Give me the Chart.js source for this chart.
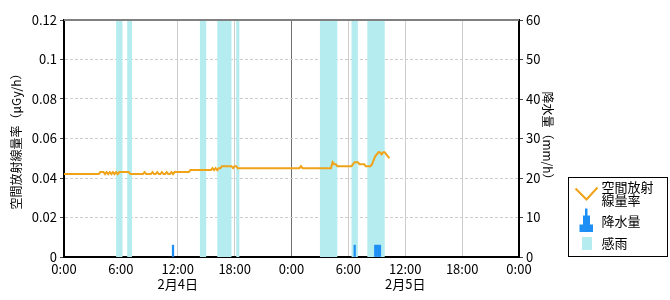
<!DOCTYPE html>
<html>
<head>
<meta charset="utf-8">
<script src="https://cdn.jsdelivr.net/npm/chart.js@4.4.1/dist/chart.umd.min.js"></script>
<style>
html, body { margin: 0; padding: 0; background: #fff; }
canvas { display: block; }
</style>
</head>
<body>
<canvas id="chart" width="670" height="300"></canvas>
<script>
// ============ DATA ============
const doseLabel = '空間放射線量率';
const rainLabel = '降水量';
const senseLabel = '感雨';

// 10-minute readings starting 2/4 0:00 (μGy/h)
const doseRate = [
    0.042, 0.042, 0.042, 0.042, 0.042, 0.042,  // 0h
    0.042, 0.042, 0.042, 0.042, 0.042, 0.042,
    0.042, 0.042, 0.042, 0.042, 0.042, 0.042,
    0.042, 0.042, 0.042, 0.042, 0.042, 0.043,
    0.043, 0.043, 0.042, 0.043, 0.042, 0.043,
    0.042, 0.043, 0.042, 0.043, 0.042, 0.043,
    0.043, 0.043, 0.043, 0.043, 0.043, 0.043,  // 6h
    0.042, 0.042, 0.042, 0.042, 0.042, 0.042,
    0.042, 0.042, 0.042, 0.043, 0.042, 0.042,
    0.042, 0.042, 0.043, 0.042, 0.042, 0.043,
    0.042, 0.042, 0.043, 0.042, 0.042, 0.043,
    0.042, 0.042, 0.043, 0.042, 0.043, 0.043,
    0.043, 0.043, 0.043, 0.043, 0.043, 0.043,  // 12h
    0.043, 0.043, 0.044, 0.044, 0.044, 0.044,
    0.044, 0.044, 0.044, 0.044, 0.044, 0.044,
    0.044, 0.044, 0.044, 0.044, 0.045, 0.044,
    0.045, 0.044, 0.045, 0.045, 0.046, 0.046,
    0.046, 0.046, 0.046, 0.046, 0.046, 0.045,
    0.046, 0.046, 0.045, 0.045, 0.045, 0.045,  // 18h
    0.045, 0.045, 0.045, 0.045, 0.045, 0.045,
    0.045, 0.045, 0.045, 0.045, 0.045, 0.045,
    0.045, 0.045, 0.045, 0.045, 0.045, 0.045,
    0.045, 0.045, 0.045, 0.045, 0.045, 0.045,
    0.045, 0.045, 0.045, 0.045, 0.045, 0.045,
    0.045, 0.045, 0.045, 0.045, 0.045, 0.045,  // 2/5 0h
    0.046, 0.045, 0.045, 0.045, 0.045, 0.045,
    0.045, 0.045, 0.045, 0.045, 0.045, 0.045,
    0.045, 0.045, 0.045, 0.045, 0.045, 0.045,
    0.045, 0.045, 0.048, 0.047, 0.047, 0.046,
    0.046, 0.046, 0.046, 0.046, 0.046, 0.046,
    0.046, 0.046, 0.046, 0.047, 0.048, 0.048,  // 2/5 6h
    0.048, 0.047, 0.047, 0.047, 0.047, 0.046,
    0.046, 0.046, 0.046, 0.047, 0.049, 0.051,
    0.052, 0.053, 0.053, 0.052, 0.053, 0.053,
    0.052, 0.051, 0.050
];

// rain (mm/h), "day h:mm"
const rainTimes = ['4 11:30', '5 6:40', '5 8:50', '5 9:00', '5 9:10', '5 9:20'];
const rainAmounts = [3, 3, 3, 3, 3, 3];

// rain sensor on/off periods
const senseStart = ['4 5:30', '4 6:40', '4 14:20', '4 16:10', '4 18:10', '5 3:00', '5 6:20', '5 8:00'];
const senseEnd   = ['4 6:10', '4 7:10', '4 15:00', '4 17:40', '4 18:30', '5 4:50', '5 7:00', '5 9:50'];

const timeTicks = ['0:00', '6:00', '12:00', '18:00', '0:00', '6:00', '12:00', '18:00', '0:00'];
const dateTicks = ['', '', '2月4日', '', '', '', '2月5日', '', ''];

// ============ HELPERS ============
const NUM_FONT = '"Liberation Sans Narrow", "Noto Sans CJK JP", sans-serif';
const JP_FONT = '"Noto Sans CJK JP", sans-serif';
const DOSE_COLOR = '#f0a318';
const RAIN_COLOR = '#1e8ff5';
const SENSE_COLOR = '#b4ecef';

function toHours(s) {
    const [d, hm] = s.split(' ');
    const [h, m] = hm.split(':');
    return (Number(d) - 4) * 24 + Number(h) + Number(m) / 60;
}

function senseSteps() {
    const pts = [{ x: 0, y: 0 }];
    senseStart.forEach((s, i) => {
        pts.push({ x: toHours(s), y: 1 });
        pts.push({ x: toHours(senseEnd[i]), y: 0 });
    });
    pts.push({ x: 48, y: 0 });
    return pts;
}

const dosePoints = doseRate.map((v, i) => ({ x: i / 6, y: v }));
const rainPoints = rainTimes.map((t, i) => ({ x: toHours(t), y: rainAmounts[i] }));

// ============ PLUGINS ============
const frameAndLegend = {
    id: 'frameAndLegend',
    afterDatasetsDraw(chart) {
        const { ctx, chartArea } = chart;
        ctx.save();
        ctx.strokeStyle = '#808080';
        ctx.lineWidth = 2;
        ctx.beginPath();
        ctx.moveTo(chartArea.left, chartArea.top);
        ctx.lineTo(chartArea.right, chartArea.top);
        ctx.stroke();
        ctx.restore();
    },
    afterDraw(chart) {
        const { ctx, chartArea } = chart;
        const bx = chartArea.right + 49.5;
        const by = chartArea.bottom - 79.5;
        ctx.save();
        ctx.strokeStyle = '#000';
        ctx.lineWidth = 1;
        ctx.strokeRect(bx, by, 99, 79);

        // dose icon
        ctx.strokeStyle = DOSE_COLOR;
        ctx.lineWidth = 2;
        ctx.beginPath();
        ctx.moveTo(bx + 7, by + 11);
        ctx.lineTo(bx + 18, by + 22);
        ctx.lineTo(bx + 29, by + 10);
        ctx.stroke();

        // rain icon
        ctx.fillStyle = RAIN_COLOR;
        ctx.beginPath();
        ctx.moveTo(bx + 11, by + 54.5);
        ctx.lineTo(bx + 11, by + 47);
        ctx.lineTo(bx + 14.5, by + 47);
        ctx.lineTo(bx + 14.5, by + 38);
        ctx.lineTo(bx + 16.5, by + 38);
        ctx.lineTo(bx + 16.5, by + 31);
        ctx.lineTo(bx + 19, by + 31);
        ctx.lineTo(bx + 19, by + 38);
        ctx.lineTo(bx + 21.5, by + 38);
        ctx.lineTo(bx + 21.5, by + 47);
        ctx.lineTo(bx + 24.5, by + 47);
        ctx.lineTo(bx + 24.5, by + 54.5);
        ctx.closePath();
        ctx.fill();

        // sense icon
        ctx.fillStyle = SENSE_COLOR;
        ctx.fillRect(bx + 13.5, by + 59.5, 10, 13);

        ctx.fillStyle = '#000';
        ctx.font = '13px ' + JP_FONT;
        ctx.textBaseline = 'middle';
        ctx.fillText(doseLabel.slice(0, 4), bx + 33, by + 10);
        ctx.fillText(doseLabel.slice(4), bx + 33, by + 23);
        ctx.fillText(rainLabel, bx + 33, by + 44);
        ctx.fillText(senseLabel, bx + 33, by + 66);
        ctx.restore();
    }
};

// ============ CHART ============
new Chart(document.getElementById('chart'), {
    type: 'line',
    data: {
        datasets: [
            {
                label: doseLabel,
                data: dosePoints,
                yAxisID: 'yDose',
                borderColor: DOSE_COLOR,
                borderWidth: 2,
                pointRadius: 0,
                tension: 0,
                fill: false
            },
            {
                type: 'bar',
                label: rainLabel,
                data: rainPoints,
                yAxisID: 'yRain',
                backgroundColor: RAIN_COLOR,
                borderWidth: 0,
                barPercentage: 1,
                categoryPercentage: 1
            },
            {
                label: senseLabel,
                data: senseSteps(),
                yAxisID: 'yBand',
                stepped: 'before',
                borderColor: 'rgba(0,0,0,0)',
                borderWidth: 0,
                backgroundColor: SENSE_COLOR,
                pointRadius: 0,
                fill: 'origin'
            }
        ]
    },
    options: {
        responsive: false,
        devicePixelRatio: 1,
        animation: false,
        layout: { padding: { top: 20, right: 106, bottom: 3, left: 0 } },
        plugins: {
            legend: { display: false },
            tooltip: { enabled: false }
        },
        scales: {
            x: {
                type: 'linear',
                min: 0,
                max: 48,
                offset: false,
                ticks: {
                    stepSize: 6,
                    autoSkip: false,
                    maxRotation: 0,
                    padding: 4,
                    color: '#000',
                    font: { family: NUM_FONT, size: 13 },
                    callback: (v, i) => dateTicks[i] ? [timeTicks[i], dateTicks[i]] : timeTicks[i]
                },
                grid: {
                    offset: false,
                    color: c => (c.tick && c.tick.value === 24) ? '#6e6e6e' : '#cccccc',
                    drawTicks: false
                },
                border: { color: '#000', width: 2 },
                afterFit: s => { s.height = 40; }
            },
            yDose: {
                position: 'left',
                min: 0,
                max: 0.12,
                ticks: {
                    stepSize: 0.02,
                    padding: 3,
                    color: '#000',
                    font: { family: NUM_FONT, size: 13 },
                    callback: v => String(+v.toFixed(2))
                },
                grid: { color: '#cccccc', tickLength: 4, tickColor: '#444' },
                border: { color: '#000', width: 2, dash: [3, 2] },
                title: {
                    display: true,
                    text: '空間放射線量率（μGy/h）',
                    color: '#000',
                    font: { family: JP_FONT, size: 12 },
                    padding: { top: 9, bottom: 0 }
                },
                afterFit: s => { s.width = 64; s.paddingTop = 0; s.paddingBottom = 0; }
            },
            yRain: {
                position: 'right',
                min: 0,
                max: 60,
                ticks: {
                    stepSize: 10,
                    padding: 3,
                    color: '#000',
                    font: { family: NUM_FONT, size: 13 }
                },
                grid: { drawOnChartArea: false, tickLength: 4, tickColor: '#444' },
                border: { color: '#000', width: 2 },
                title: {
                    display: true,
                    text: '降水量（mm/h）',
                    color: '#000',
                    font: { family: JP_FONT, size: 12 },
                    padding: { top: 9, bottom: 0 }
                },
                afterFit: s => { s.width = 45; s.paddingTop = 0; s.paddingBottom = 0; }
            },
            yBand: {
                display: false,
                min: 0,
                max: 1
            }
        }
    },
    plugins: [frameAndLegend]
});
</script>
</body>
</html>
